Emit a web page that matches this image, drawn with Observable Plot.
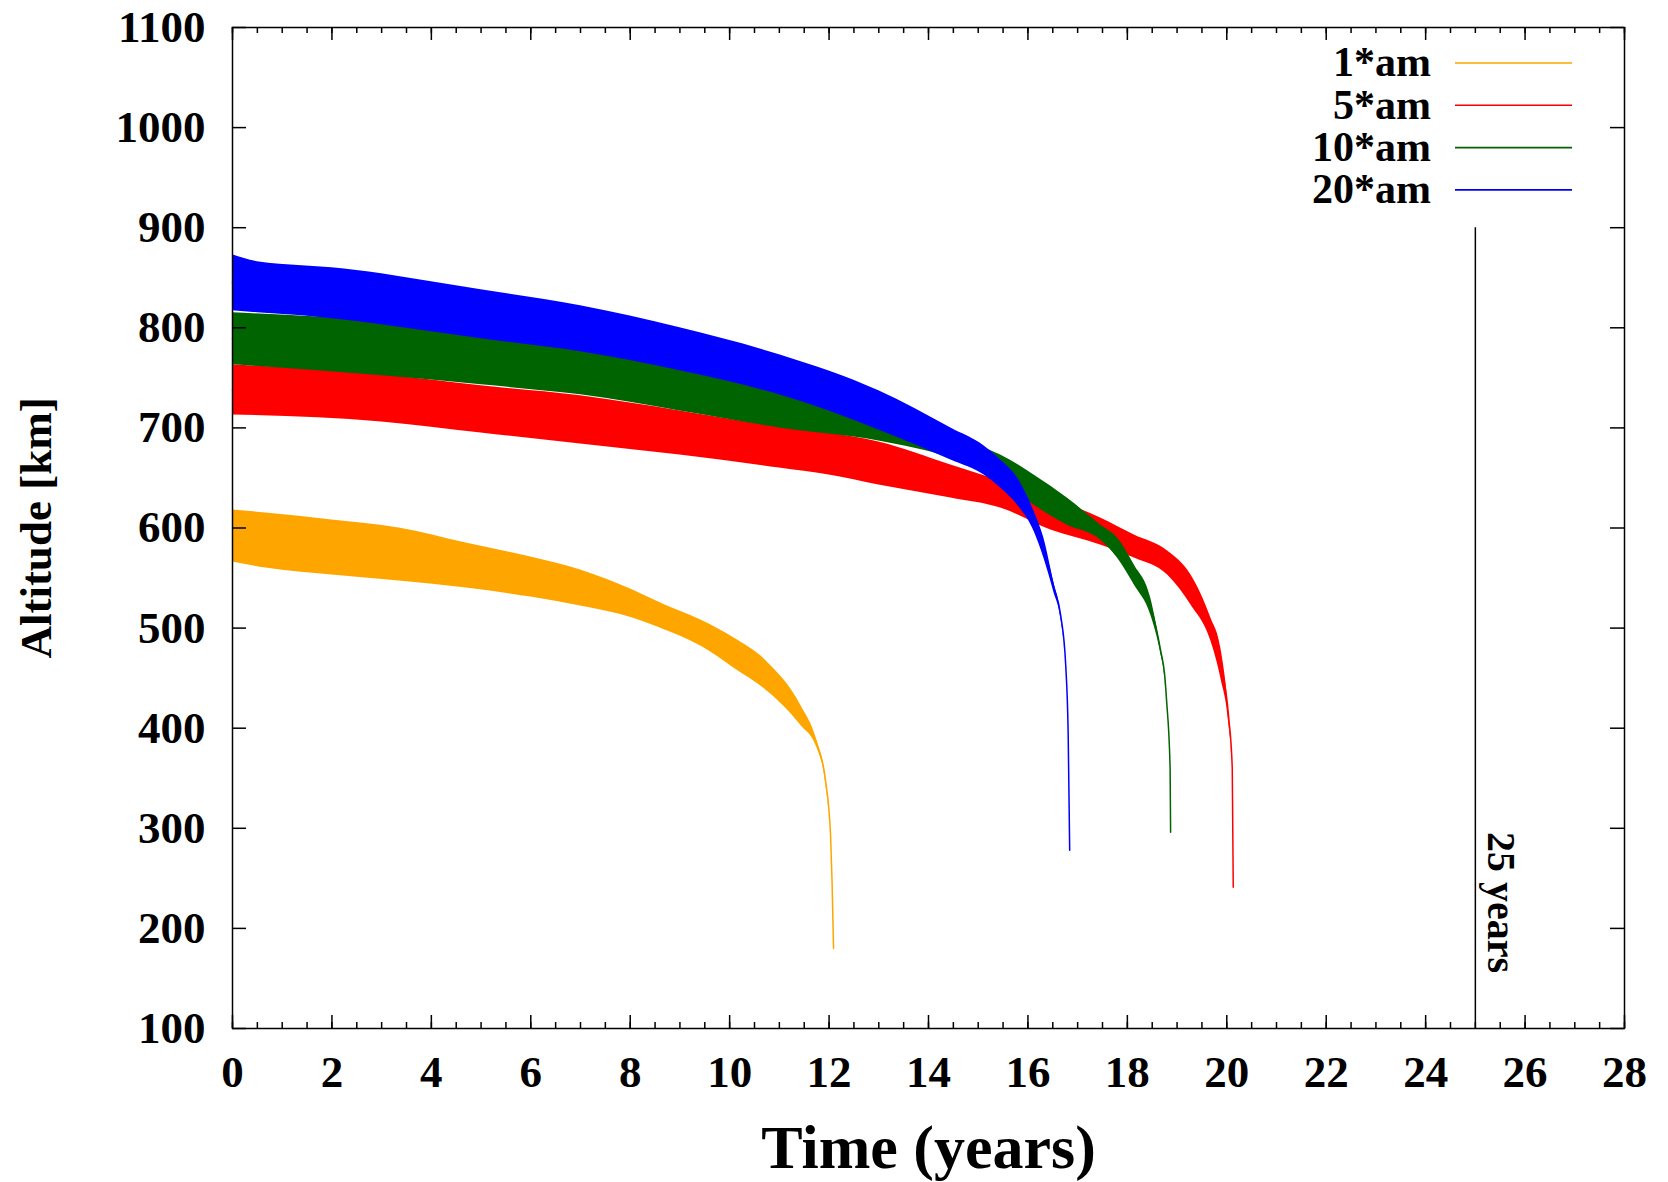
<!DOCTYPE html>
<html>
<head>
<meta charset="utf-8">
<script src="https://cdn.jsdelivr.net/npm/d3@7"></script>
<script src="https://cdn.jsdelivr.net/npm/@observablehq/plot@0.6"></script>
<style>
  html, body { margin: 0; padding: 0; background: #fff; }
</style>
</head>
<body>
<div id="chart"></div>
<script>
// Orbital decay of four area-to-mass cases: each run oscillates inside a band,
// stored here as the lower and upper altitude envelope (km) against time (years).
const seriesNames = ["1*am", "5*am", "10*am", "20*am"];
const seriesColors = ["#ffa500", "#ff0000", "#006400", "#0000ff"];

const am1Years = [0, 0.67, 2.0, 3.35, 4.7, 6.0, 7.0, 8.05, 8.7, 9.42, 10.09, 10.76, 11.43, 11.76, 11.93, 12.03, 12.06, 12.09];
const am1Low   = [566, 560, 553, 547, 540, 531, 522, 510, 498, 482, 460, 437, 403, 380, 345, 293, 247, 180];
const am1High  = [618, 615, 608, 600, 585, 571, 558, 538, 523, 508, 490, 466, 423, 387, 350, 293, 247, 180];

const am5Years = [0, 3, 5, 7, 9, 11, 12, 13, 14.45, 15.45, 16.46, 17.46, 18.14, 18.81, 19.28, 19.68, 19.88, 20.04, 20.11, 20.13];
const am5Low   = [713, 706, 695, 684, 673, 660, 653, 643, 630, 620, 598, 583, 570, 553, 523, 487, 450, 405, 360, 241];
const am5High  = [763, 753, 742, 732, 717, 701, 695, 686, 663, 647, 630, 610, 593, 577, 553, 510, 480, 415, 360, 241];

const am10Years = [0, 3, 5, 7, 9, 11, 13, 14.45, 15.45, 16.12, 16.79, 17.46, 17.8, 18.14, 18.47, 18.67, 18.75, 18.79, 18.86, 18.87];
const am10Low   = [763, 752, 743, 733, 717, 700, 687, 670, 650, 623, 603, 588, 570, 543, 513, 475, 452, 427, 360, 296];
const am10High  = [815, 806, 795, 782, 763, 740, 708, 690, 673, 653, 630, 603, 590, 563, 530, 480, 455, 427, 360, 296];

const am20Years = [0, 0.5, 1.4, 2.0, 3.0, 4.0, 5.0, 7.0, 9.0, 11.0, 13.0, 14.45, 15.12, 15.45, 15.79, 16.12, 16.32, 16.52, 16.66, 16.76, 16.81, 16.84];
const am20Low   = [817, 815, 812, 809, 803, 796, 789, 776, 757, 733, 698, 668, 653, 640, 623, 597, 570, 536, 510, 463, 393, 278];
const am20High  = [873, 866, 862, 860, 854, 846, 838, 822, 800, 773, 737, 700, 682, 668, 650, 617, 590, 546, 515, 463, 393, 278];

// Axis ticks and the 25-year reference line
const xTicks = d3.range(0, 29, 2);
const xMinorTicks = d3.range(0, 28.001, 0.5);
const yTicks = d3.range(100, 1101, 100);
const deadlineYears = 25;
const deadlineTopKm = 900;
const deadlineLabel = "25 years";
const xTitle = "Time (years)";
const yTitle = "Altitude [km]";

// Build one table per run
const toRows = (years, low, high) =>
  years.map((t, i) => ({t, low: low[i], high: high[i], mid: (low[i] + high[i]) / 2}));
const runs = [
  toRows(am1Years, am1Low, am1High),
  toRows(am5Years, am5Low, am5High),
  toRows(am10Years, am10Low, am10High),
  toRows(am20Years, am20Low, am20High)
];

// Layout
const W = 1668, H = 1182;
const mL = 232, mR = 44, mT = 27, mB = 154;
const innerW = W - mL - mR, innerH = H - mT - mB;
const serif = "'Liberation Serif', 'Times New Roman', serif";

// Legend drawn inside the top-right corner of the frame
function legend(index, scales, values, dims) {
  const right = dims.width - dims.marginRight;
  const g = d3.create("svg:g")
    .attr("font-size", 42)
    .attr("font-weight", "bold")
    .attr("font-family", serif);
  seriesNames.forEach((name, i) => {
    const y = dims.marginTop + 36 + i * 42.3;
    g.append("text")
      .attr("x", right - 193).attr("y", y).attr("dy", "0.32em")
      .attr("text-anchor", "end").attr("fill", "#000")
      .text(name);
    g.append("line")
      .attr("x1", right - 169).attr("x2", right - 52)
      .attr("y1", y).attr("y2", y)
      .attr("stroke", seriesColors[i]).attr("stroke-width", 1.6);
  });
  return g.node();
}

const seriesMarks = runs.flatMap((rows, i) => [
  Plot.areaY(rows, {x: "t", y1: "low", y2: "high", fill: seriesColors[i], curve: "monotone-x"}),
  Plot.line(rows, {x: "t", y: "mid", stroke: seriesColors[i], strokeWidth: 1.5, curve: "monotone-x"})
]);

const chart = Plot.plot({
  width: W,
  height: H,
  marginLeft: mL,
  marginRight: mR,
  marginTop: mT,
  marginBottom: mB,
  x: {domain: [0, 28]},
  y: {domain: [100, 1100]},
  style: {
    fontFamily: serif,
    fontWeight: "bold",
    fontSize: "45px",
    background: "#fff",
    color: "#000"
  },
  marks: [
    ...seriesMarks,
    // 25-year limit
    Plot.ruleX([deadlineYears], {y1: 100, y2: deadlineTopKm, stroke: "#000", strokeWidth: 1.5}),
    Plot.text([deadlineYears], {
      x: d => d, frameAnchor: "bottom", dy: -126, dx: 25,
      textAnchor: "middle", lineAnchor: "middle",
      rotate: 90, text: () => deadlineLabel, fontSize: 40, fill: "#000"
    }),
    // inward ticks on all four sides
    Plot.ruleX(xTicks, {stroke: "#000", strokeWidth: 1.5, insetTop: innerH - 13}),
    Plot.ruleX(xTicks, {stroke: "#000", strokeWidth: 1.5, insetBottom: innerH - 13}),
    Plot.ruleX(xMinorTicks, {stroke: "#000", strokeWidth: 1.5, insetTop: innerH - 6}),
    Plot.ruleX(xMinorTicks, {stroke: "#000", strokeWidth: 1.5, insetBottom: innerH - 6}),
    Plot.ruleY(yTicks, {stroke: "#000", strokeWidth: 1.5, insetRight: innerW - 14}),
    Plot.ruleY(yTicks, {stroke: "#000", strokeWidth: 1.5, insetLeft: innerW - 14}),
    Plot.frame({stroke: "#000", strokeWidth: 1.5}),
    Plot.axisX(xTicks, {tickSize: 0, tickPadding: 27, label: null, fill: "#000", tickFormat: d => String(d)}),
    Plot.axisY(yTicks, {tickSize: 0, tickPadding: 27, label: null, fill: "#000", tickFormat: d => String(d)}),
    // axis titles
    Plot.text([xTitle], {
      frameAnchor: "bottom", dy: 120, textAnchor: "middle", lineAnchor: "middle",
      text: d => d, fontSize: 62, fill: "#000"
    }),
    Plot.text([yTitle], {
      frameAnchor: "left", dx: -196, textAnchor: "middle", lineAnchor: "middle",
      rotate: -90, text: d => d, fontSize: 45, fill: "#000"
    }),
    legend
  ]
});

document.getElementById("chart").appendChild(chart);
</script>
</body>
</html>
